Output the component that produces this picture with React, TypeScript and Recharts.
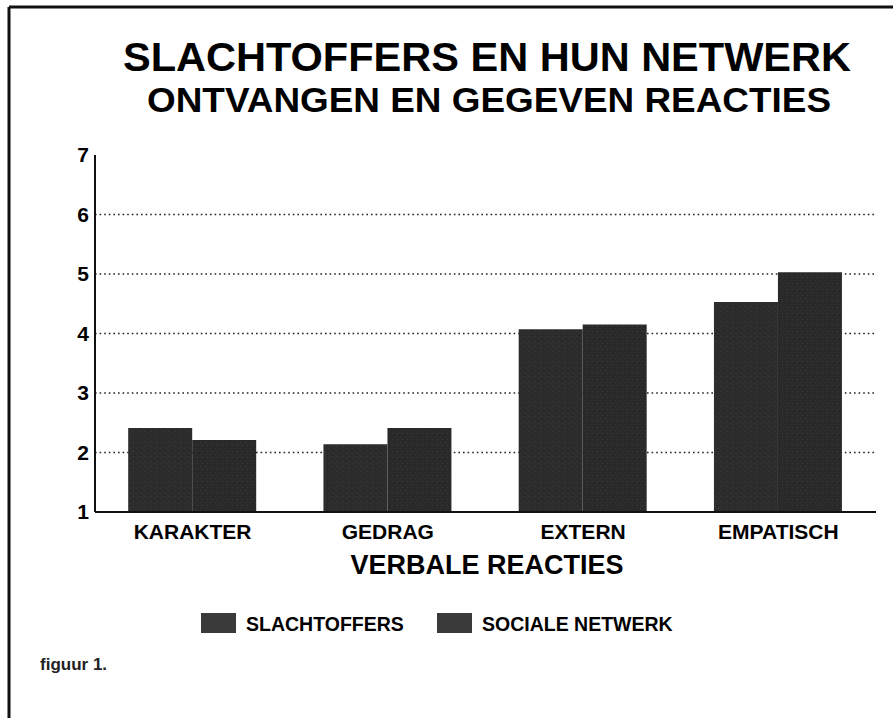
import React from "react";
import { BarChart, Bar, XAxis, YAxis, CartesianGrid } from "recharts";

// Verbale reacties: ontvangen (slachtoffers) en gegeven (sociale netwerk)
const CATEGORIES = ["KARAKTER", "GEDRAG", "EXTERN", "EMPATISCH"];
const SLACHTOFFERS = [2.41, 2.14, 4.07, 4.53];
const SOCIALE_NETWERK = [2.21, 2.41, 4.15, 5.03];
const Y_TICKS = [1, 2, 3, 4, 5, 6, 7];
const GRID_VALUES = [2, 3, 4, 5, 6];

const SERIES = [
  { key: "slachtoffers", name: "SLACHTOFFERS", fill: "url(#texA)" },
  { key: "sociaal", name: "SOCIALE NETWERK", fill: "url(#texB)" },
];

const TITLE = "SLACHTOFFERS EN HUN NETWERK";
const SUBTITLE = "ONTVANGEN EN GEGEVEN REACTIES";
const X_TITLE = "VERBALE REACTIES";
const CAPTION = "figuur 1.";

const FONT = "'Liberation Sans', Arial, Helvetica, sans-serif";

const data = CATEGORIES.map((c, i) => ({
  name: c,
  slachtoffers: SLACHTOFFERS[i],
  sociaal: SOCIALE_NETWERK[i],
}));

export default function App() {
  return (
    <div
      style={{
        position: "absolute",
        left: 0,
        top: 0,
        width: 893,
        height: 718,
        background: "#fff",
        fontFamily: FONT,
      }}
    >
      <BarChart
        width={893}
        height={718}
        data={data}
        margin={{ top: 155, right: 17, left: 0, bottom: 166 }}
        barCategoryGap="17%"
        barGap={0}
      >
        <defs>
          <pattern id="texA" width="6" height="5" patternUnits="userSpaceOnUse">
            <rect width="6" height="5" fill="#2c2c2c" />
            <rect x="1" y="1" width="1" height="1" fill="#3b3b3b" />
            <rect x="4" y="3" width="1" height="1" fill="#363636" />
            <rect x="3" y="0" width="1" height="1" fill="#222" />
          </pattern>
          <pattern id="texB" width="5" height="6" patternUnits="userSpaceOnUse">
            <rect width="5" height="6" fill="#2a2a2a" />
            <rect x="2" y="1" width="1" height="1" fill="#393939" />
            <rect x="0" y="4" width="1" height="1" fill="#353535" />
            <rect x="4" y="3" width="1" height="1" fill="#202020" />
          </pattern>
        </defs>
        <CartesianGrid
          vertical={false}
          horizontalValues={GRID_VALUES}
          stroke="#222"
          strokeWidth={1.6}
          strokeDasharray="1.6 3"
        />
        <XAxis
          dataKey="name"
          height={40}
          tickLine={false}
          tickSize={0}
          tickMargin={12}
          axisLine={{ stroke: "#111", strokeWidth: 2 }}
          tick={{ fill: "#000", fontSize: 21, fontWeight: 700, fontFamily: FONT }}
        />
        <XAxis
          xAxisId="top"
          orientation="top"
          dataKey="name"
          height={0}
          tick={false}
          tickLine={false}
          axisLine={{ stroke: "#8a8a8a", strokeWidth: 1.5 }}
        />
        <YAxis
          width={95}
          domain={[1, 7]}
          ticks={Y_TICKS}
          type="number"
          allowDataOverflow
          tickLine={false}
          tickSize={0}
          tickMargin={6}
          axisLine={{ stroke: "#111", strokeWidth: 2 }}
          tick={{ fill: "#000", fontSize: 21, fontWeight: 700, fontFamily: FONT }}
        />
        <YAxis
          yAxisId="right"
          orientation="right"
          width={0}
          domain={[1, 7]}
          tick={false}
          tickLine={false}
          axisLine={{ stroke: "#444", strokeWidth: 1.5 }}
        />
        {SERIES.map((s) => (
          <Bar
            key={s.key}
            dataKey={s.key}
            name={s.name}
            fill={s.fill}
            isAnimationActive={false}
          />
        ))}
      </BarChart>

      <svg
        width={893}
        height={718}
        style={{ position: "absolute", left: 0, top: 0, pointerEvents: "none" }}
        fontFamily={FONT}
        fontWeight={700}
      >
        {/* frame: top and left edges only */}
        <line x1={9} y1={7} x2={893} y2={7} stroke="#111" strokeWidth={3} />
        <line x1={9} y1={7} x2={9} y2={718} stroke="#111" strokeWidth={3} />

        <text
          x={487}
          y={71}
          textAnchor="middle"
          fontSize={40.5}
          fill="#000"
          textLength={728}
          lengthAdjust="spacingAndGlyphs"
        >
          {TITLE}
        </text>
        <text
          x={489}
          y={112}
          textAnchor="middle"
          fontSize={35.5}
          fill="#000"
          textLength={684}
          lengthAdjust="spacingAndGlyphs"
        >
          {SUBTITLE}
        </text>
        <text x={487} y={574} textAnchor="middle" fontSize={27} fill="#000">
          {X_TITLE}
        </text>

        {SERIES.map((s, i) => {
          const x = i === 0 ? 201 : 437;
          return (
            <g key={s.key}>
              <rect x={x} y={613} width={35} height={20} fill="#3a3a3a" />
              <text x={x + 45} y={631} fontSize={19.5} fill="#000">
                {s.name}
              </text>
            </g>
          );
        })}

        <text x={40} y={670} fontSize={17} fill="#222">
          {CAPTION}
        </text>
      </svg>
    </div>
  );
}
